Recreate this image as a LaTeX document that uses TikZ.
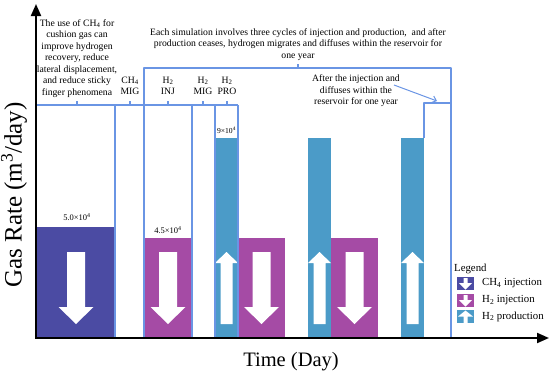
\documentclass[tikz,border=0pt]{standalone}
\usepackage{fontspec}
\setmainfont{Liberation Serif}
\usetikzlibrary{arrows.meta}
\definecolor{chc}{HTML}{4B4BA3}
\definecolor{puc}{HTML}{A54BA5}
\definecolor{blc}{HTML}{4B9BC8}
\definecolor{lnc}{HTML}{6A95E4}
\tikzset{
  axisln/.style={black,line width=2pt},
  brk/.style={lnc,line width=1.3pt,line join=round},
  note/.style={align=center,inner sep=0pt,font=\fontsize{9.7}{11.5}\selectfont},
  val/.style={inner sep=0pt,font=\fontsize{8.5}{10}\selectfont},
  lgd/.style={anchor=west,inner sep=0pt,font=\fontsize{10.8}{12}\selectfont},
}
\newcommand{\dnarrow}[1]{\fill[white] (#1-9,252) -- (#1+9,252) -- (#1+9,307) -- (#1+17.5,307) -- (#1,324) -- (#1-17.5,307) -- (#1-9,307) -- cycle;}
\newcommand{\uparrowx}[1]{\fill[white] (#1-6,324) -- (#1+6,324) -- (#1+6,263) -- (#1+11.5,263) -- (#1,252) -- (#1-11.5,263) -- (#1-6,263) -- cycle;}
\begin{document}
\begin{tikzpicture}[x=1pt,y=-1pt]
\useasboundingbox (0,0) rectangle (550,375);
% bars
\fill[chc] (36,227) rectangle (115,338);
\fill[puc] (144,238) rectangle (192,338);
\fill[blc] (215,138) rectangle (238,338);
\fill[puc] (238,238) rectangle (285,338);
\fill[blc] (308,138) rectangle (331,338);
\fill[puc] (331,238) rectangle (378,338);
\fill[blc] (401,138) rectangle (424,338);
% white block arrows
\dnarrow{76}
\dnarrow{168}
\dnarrow{261.5}
\dnarrow{354.5}
\uparrowx{226.5}
\uparrowx{319.5}
\uparrowx{412.5}
% brackets / phase lines
\draw[brk] (36,105) -- (238,105);
\foreach \t in {77,130,168,203,227} \draw[brk] (\t,105) -- (\t,101);
\foreach \v in {115,192,215,238} \draw[brk] (\v,105) -- (\v,338);
\draw[brk] (144,338) -- (144,68) -- (451,68) -- (451,338);
\draw[brk] (298,68) -- (298,64);
\draw[brk] (424,138) -- (424,103) -- (451,103);
% axes
\draw[axisln,-{Triangle[length=12pt,width=10pt]}] (36,338) -- (36,4);
\draw[axisln,-{Triangle[length=12pt,width=10pt]}] (35,338) -- (549,338);
% texts
\node[note] (n1) at (77,58.5) {The use of CH\textsubscript{4} for\\cushion gas can\\improve hydrogen\\recovery, reduce\\lateral displacement,\\and reduce sticky\\finger phenomena};
\node[note] (p1) at (130,86) {CH\textsubscript{4}\\MIG};
\node[note] (p2) at (168,86) {H\textsubscript{2}\\INJ};
\node[note] (p3) at (203,86) {H\textsubscript{2}\\MIG};
\node[note] (p4) at (227,86) {H\textsubscript{2}\\PRO};
\node[note] (n2) at (298,44.5) {Each simulation involves three cycles of injection and production,\ \ and after\\production ceases, hydrogen migrates and diffuses within the reservoir for\\one year};
\node[note] (n3) at (356,91) {After the injection and\\diffuses within the\\reservoir for one year};
\coordinate (as) at (394,85);
\coordinate (ae) at (437,101);
\draw[lnc,line width=1pt,-{Straight Barb[length=4pt,width=7pt]}] (as) -- (ae);
\node[val] (v1) at (77,217) {5.0×10\textsuperscript{4}};
\node[val] (v2) at (168,230) {4.5×10\textsuperscript{4}};
\node[val,font=\fontsize{7.6}{8}\selectfont] (v3) at (226.5,130) {9×10\textsuperscript{4}};
% legend
\node[lgd] (lg) at (454,269) {Legend};
\fill[chc] (457,277) rectangle (474,290);
\fill[white] (463.5,278) -- (467.5,278) -- (467.5,283) -- (472,283) -- (465.5,289.5) -- (459,283) -- (463.5,283) -- cycle;
\fill[puc] (457,294) rectangle (474,307);
\fill[white] (463.5,295) -- (467.5,295) -- (467.5,300) -- (472,300) -- (465.5,306.5) -- (459,300) -- (463.5,300) -- cycle;
\fill[blc] (457,310) rectangle (474,323);
\fill[white] (463.5,323) -- (467.5,323) -- (467.5,316.5) -- (473,316.5) -- (465.5,310.5) -- (458,316.5) -- (463.5,316.5) -- cycle;
\node[lgd] (l1) at (482,283) {CH\textsubscript{4} injection};
\node[lgd] (l2) at (482,300) {H\textsubscript{2} injection};
\node[lgd] (l3) at (482,316.5) {H\textsubscript{2} production};
% axis labels
\node[inner sep=0pt,font=\fontsize{20.5}{24}\selectfont] (xl) at (291,362) {Time (Day)};
\node[inner sep=0pt,rotate=90,font=\fontsize{25}{28}\selectfont] (yl) at (14,195) {Gas Rate (m\textsuperscript{3}/day)};
\end{tikzpicture}
\end{document}
